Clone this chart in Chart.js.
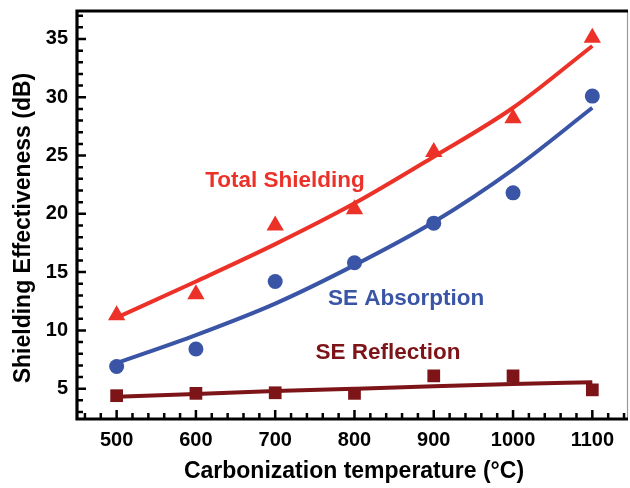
<!DOCTYPE html>
<html>
<head>
<meta charset="utf-8">
<script src="https://cdn.jsdelivr.net/npm/chart.js@4.4.1/dist/chart.umd.min.js"></script>
<style>
html,body{margin:0;padding:0;background:#fff;}
#wrap{width:630px;height:488px;position:relative;}
</style>
</head>
<body>
<div id="wrap"><canvas id="c" width="630" height="488"></canvas></div>
<script>
// ---- data ----
const temperatures = [500, 600, 700, 800, 900, 1000, 1100];
const totalSE      = [11.3, 13.1, 19.0, 20.4, 25.3, 28.2, 35.1];
const absorptionSE = [6.9, 8.4, 14.2, 15.8, 19.2, 21.8, 30.1];
const reflectionSE = [4.4, 4.6, 4.65, 4.6, 6.1, 6.1, 4.9];
// fitted curves
const totalFit      = [11.1, 14.2, 17.4, 20.9, 24.9, 29.1, 34.4];
const absorptionFit = [7.2, 9.6, 12.3, 15.6, 19.3, 23.8, 29.1];
const reflectionFit = [4.3, 4.55, 4.8, 5.0, 5.2, 5.4, 5.55];
const xTicks = [500, 600, 700, 800, 900, 1000, 1100];
const yTicks = [5, 10, 15, 20, 25, 30, 35];
const xTitle = 'Carbonization temperature (°C)';
const yTitle = 'Shielding Effectiveness (dB)';
const seriesLabels = ['Total Shielding', 'SE Absorption', 'SE Reflection'];

const RED = 'rgb(236,49,40)';
const BLUE = 'rgb(58,84,166)';
const DRED = 'rgb(124,20,24)';
const FONT = '"Liberation Sans", Arial, Helvetica, sans-serif';

const pts = (ys) => temperatures.map((x, i) => ({x: x, y: ys[i]}));

const framePlugin = {
  id: 'frame',
  afterDraw(chart) {
    const ctx = chart.ctx, a = chart.chartArea;
    const xs = chart.scales.x, ys = chart.scales.y;
    ctx.save();
    ctx.strokeStyle = '#999';
    ctx.lineWidth = 1.2;
    ctx.beginPath(); ctx.moveTo(a.right - 0.5, a.top); ctx.lineTo(a.right - 0.5, a.bottom); ctx.stroke();
    ctx.strokeStyle = '#000';
    ctx.lineWidth = 3.2;
    ctx.lineCap = 'butt';
    ctx.beginPath();
    ctx.moveTo(a.left - 1.5, a.top); ctx.lineTo(a.right, a.top);
    ctx.moveTo(a.left, a.top - 1.5); ctx.lineTo(a.left, a.bottom + 1.5);
    ctx.moveTo(a.left - 1.5, a.bottom); ctx.lineTo(a.right, a.bottom);
    ctx.stroke();
    ctx.lineWidth = 2.5;
    ctx.beginPath();
    for (let v = 460; v <= 1140; v += 20) {
      const px = xs.getPixelForValue(v);
      const len = (v % 100 === 0) ? 9 : 6;
      ctx.moveTo(px, a.bottom); ctx.lineTo(px, a.bottom - len);
    }
    for (let v = 3; v <= 37; v += 1) {
      const py = ys.getPixelForValue(v);
      const len = (v % 5 === 0) ? 9 : 6;
      ctx.moveTo(a.left, py); ctx.lineTo(a.left + len, py);
    }
    ctx.stroke();
    ctx.fillStyle = '#000';
    ctx.font = 'bold 23px ' + FONT;
    ctx.textAlign = 'center';
    ctx.textBaseline = 'middle';
    ctx.fillText(xTitle, 354, 472);
    ctx.save();
    ctx.translate(24, 228);
    ctx.rotate(-Math.PI / 2);
    ctx.fillText(yTitle, 0, 0);
    ctx.restore();
    ctx.font = 'bold 22.5px ' + FONT;
    ctx.fillStyle = RED;  ctx.fillText(seriesLabels[0], 285, 181);
    ctx.fillStyle = BLUE; ctx.fillText(seriesLabels[1], 406, 299);
    ctx.fillStyle = DRED; ctx.fillText(seriesLabels[2], 388, 353);
    ctx.restore();
  }
};

const lineDs = (data, color) => ({
  type: 'line', data: pts(data), borderColor: color, borderWidth: 4,
  pointRadius: 0, tension: 0.4, cubicInterpolationMode: 'monotone', fill: false, order: 2
});
const markDs = (data, color, style, r) => ({
  type: 'line', data: pts(data), showLine: false, pointStyle: style, pointRadius: r,
  pointBackgroundColor: color, pointBorderColor: color, pointBorderWidth: 0, order: 1
});

new Chart(document.getElementById('c'), {
  type: 'line',
  data: {
    datasets: [
      lineDs(totalFit, RED),
      lineDs(absorptionFit, BLUE),
      lineDs(reflectionFit, DRED),
      markDs(totalSE, RED, 'triangle', 10),
      markDs(absorptionSE, BLUE, 'circle', 7.5),
      markDs(reflectionSE, DRED, 'rect', 9)
    ]
  },
  options: {
    responsive: false,
    animation: false,
    devicePixelRatio: 1,
    layout: {autoPadding: false, padding: {top: 11, right: 2, left: 0, bottom: 0}},
    plugins: {legend: {display: false}, tooltip: {enabled: false}},
    scales: {
      x: {
        type: 'linear', min: 450, max: 1145,
        afterBuildTicks: (s) => { s.ticks = xTicks.map(v => ({value: v})); },
        afterFit: (s) => { s.height = 69; s.paddingLeft = 0; s.paddingRight = 0; },
        grid: {display: false, drawTicks: false},
        border: {display: false},
        ticks: {color: '#000', padding: 9, font: {family: FONT, size: 20, weight: 'bold'}, maxRotation: 0, autoSkip: false,
                callback: (v) => String(v)}
      },
      y: {
        type: 'linear', min: 2.4, max: 37.4,
        afterBuildTicks: (s) => { s.ticks = yTicks.map(v => ({value: v})); },
        afterFit: (s) => { s.width = 77; s.paddingTop = 0; s.paddingBottom = 0; },
        grid: {display: false, drawTicks: false},
        border: {display: false},
        ticks: {color: '#000', padding: 9, font: {family: FONT, size: 20, weight: 'bold'}, callback: (v) => String(v)}
      }
    }
  },
  plugins: [framePlugin]
});
</script>
</body>
</html>
